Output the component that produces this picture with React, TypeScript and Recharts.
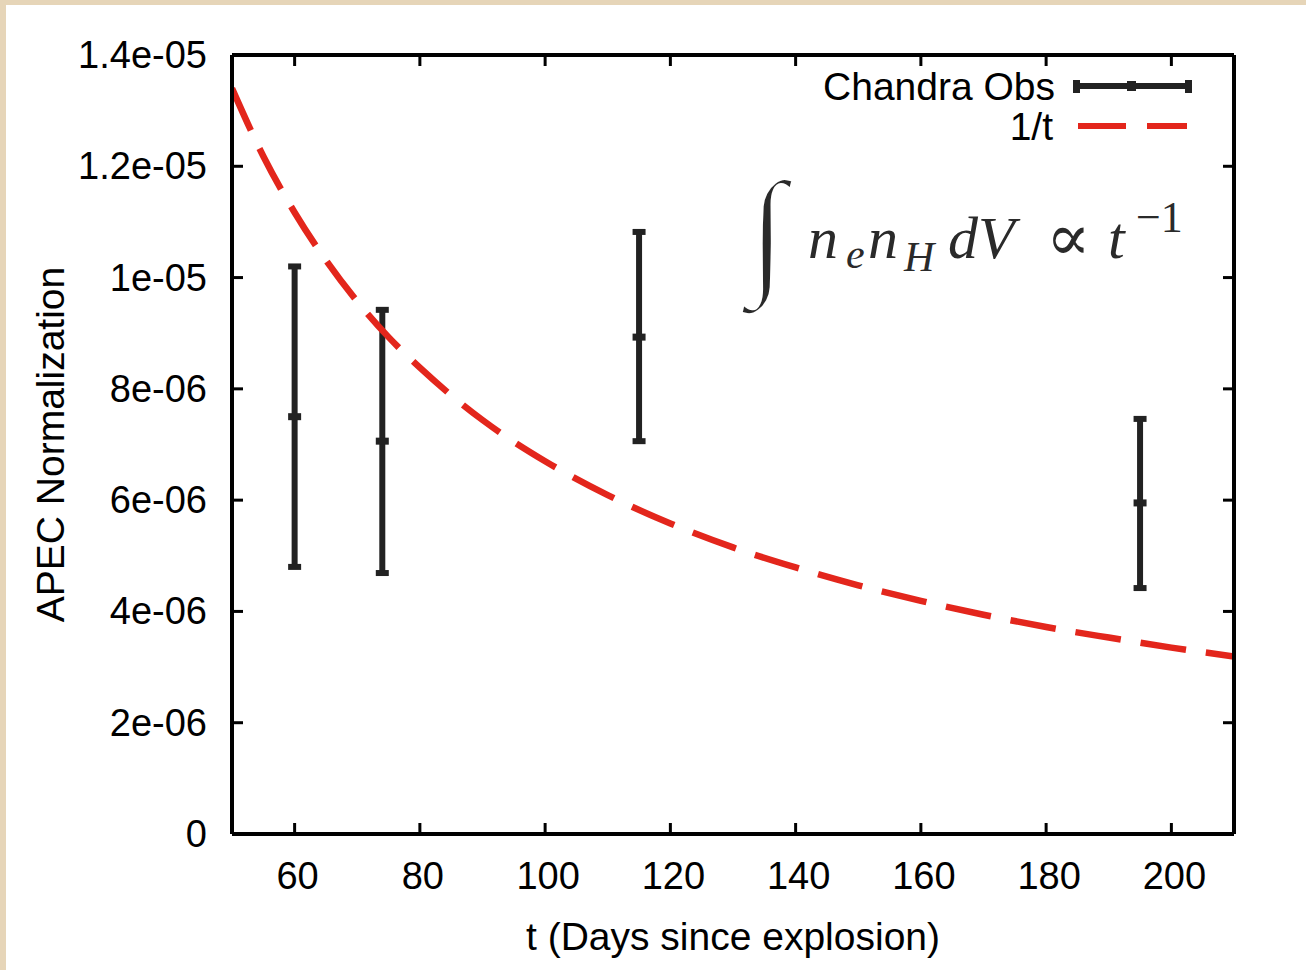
import React from 'react';
import { ComposedChart, XAxis, YAxis, Line, Scatter, ErrorBar, Legend } from 'recharts';

// ---- data ----
const OBS_T = [60, 74, 115, 195];
const OBS_NORM = [7.5e-6, 7.06e-6, 8.93e-6, 5.95e-6];
const OBS_LOW = [4.8e-6, 4.69e-6, 7.06e-6, 4.42e-6];
const OBS_HIGH = [1.02e-5, 9.42e-6, 1.082e-5, 7.46e-6];

const FIT_T = [50, 55, 60, 65, 70, 75, 80, 90, 100, 110, 120, 130, 140, 150, 160, 170, 180, 190, 200, 210];
const FIT_NORM = [
  1.34e-5, 1.218e-5, 1.117e-5, 1.031e-5, 9.57e-6, 8.93e-6, 8.38e-6, 7.44e-6, 6.7e-6, 6.09e-6,
  5.58e-6, 5.15e-6, 4.79e-6, 4.47e-6, 4.19e-6, 3.94e-6, 3.72e-6, 3.53e-6, 3.35e-6, 3.19e-6,
];

const X_TICKS = [60, 80, 100, 120, 140, 160, 180, 200];
const X_TICK_LABELS = ['60', '80', '100', '120', '140', '160', '180', '200'];
const Y_TICKS = [0, 2e-6, 4e-6, 6e-6, 8e-6, 1e-5, 1.2e-5, 1.4e-5];
const Y_TICK_LABELS = ['0', '2e-06', '4e-06', '6e-06', '8e-06', '1e-05', '1.2e-05', '1.4e-05'];

const SERIES_NAMES = ['Chandra Obs', '1/t'];
const X_TITLE = 't (Days since explosion)';
const Y_TITLE = 'APEC Normalization';

const obsData = OBS_T.map((t, i) => ({
  t,
  norm: OBS_NORM[i],
  err: [OBS_NORM[i] - OBS_LOW[i], OBS_HIGH[i] - OBS_NORM[i]],
}));
const fitData = FIT_T.map((t, i) => ({ t, norm: FIT_NORM[i] }));

// ---- style ----
const FONT = '"Liberation Sans", Arial, Helvetica, sans-serif';
const BLACK = '#000';
const BAR = '#222';
const RED = '#e3261c';
const BEIGE = '#e6d5b8';
const TICK_LEN = 11;

const BottomTick = (props: any) => {
  const { x, y, payload } = props;
  const i = X_TICKS.indexOf(payload.value);
  return (
    <g>
      <line x1={x} x2={x} y1={y} y2={y - TICK_LEN} stroke={BLACK} strokeWidth={3} />
      <text x={x + 3} y={y + 42} textAnchor="middle" dominantBaseline="central" fontFamily={FONT} fontSize={38} fill="#000">
        {X_TICK_LABELS[i]}
      </text>
    </g>
  );
};

const TopTick = (props: any) => {
  const { x, y } = props;
  return <line x1={x} x2={x} y1={y} y2={y + TICK_LEN} stroke={BLACK} strokeWidth={3} />;
};

const LeftTick = (props: any) => {
  const { x, y, payload } = props;
  const i = Y_TICKS.findIndex((v) => Math.abs(v - payload.value) < 1e-9);
  return (
    <g>
      <line x1={x} x2={x + TICK_LEN} y1={y} y2={y} stroke={BLACK} strokeWidth={3} />
      <text x={x - 25} y={y} textAnchor="end" dominantBaseline="central" fontFamily={FONT} fontSize={38} fill="#000">
        {Y_TICK_LABELS[i]}
      </text>
    </g>
  );
};

const RightTick = (props: any) => {
  const { x, y } = props;
  return <line x1={x} x2={x - TICK_LEN} y1={y} y2={y} stroke={BLACK} strokeWidth={3} />;
};

const CenterMark = (props: any) => {
  const { cx, cy } = props;
  if (cx == null || cy == null) return null;
  return <rect x={cx - 6.5} y={cy - 3.5} width={13} height={7} fill={BAR} />;
};

const XTitle = (props: any) => {
  const vb = props.viewBox || {};
  return (
    <text x={vb.x + vb.width / 2} y={vb.y + 102} textAnchor="middle" dominantBaseline="central" fontFamily={FONT} fontSize={39} fill="#000">
      {X_TITLE}
    </text>
  );
};

const YTitle = (props: any) => {
  const vb = props.viewBox || {};
  const cx = vb.x + 50;
  const cy = vb.y + vb.height / 2;
  return (
    <text x={cx} y={cy} transform={`rotate(-90 ${cx} ${cy})`} textAnchor="middle" dominantBaseline="central" fontFamily={FONT} fontSize={39} fill="#000">
      {Y_TITLE}
    </text>
  );
};

const renderLegend = () => (
  <svg width={460} height={100} style={{ display: 'block' }}>
    <text x={295} y={26} textAnchor="end" dominantBaseline="central" fontFamily={FONT} fontSize={39} fill="#000">
      {SERIES_NAMES[0]}
    </text>
    <line x1={316} x2={429} y1={26} y2={26} stroke={BAR} strokeWidth={6} />
    <rect x={313} y={20} width={7} height={13} fill={BAR} />
    <rect x={425} y={20} width={7} height={13} fill={BAR} />
    <rect x={367} y={21} width={9} height={10} fill={BAR} />
    <text x={293} y={66} textAnchor="end" dominantBaseline="central" fontFamily={FONT} fontSize={39} fill="#000">
      {SERIES_NAMES[1]}
    </text>
    <line x1={318} x2={427} y1={66} y2={66} stroke={RED} strokeWidth={6} strokeDasharray="48 21" />
  </svg>
);

const SERIF = '"Liberation Serif", "DejaVu Serif", serif';

export default function App() {
  return (
    <div style={{ position: 'fixed', left: 0, top: 0, width: 1306, height: 970, background: BEIGE, overflow: 'hidden' }}>
      <div style={{ position: 'absolute', left: 6, top: 5, width: 1300, height: 965, background: '#fff' }} />
      <div style={{ position: 'absolute', left: 0, top: 0 }}>
        <ComposedChart width={1306} height={970} margin={{ top: 54, right: 71, bottom: 0, left: 0 }}>
          <XAxis
            xAxisId="bottom"
            dataKey="t"
            type="number"
            domain={[50, 210]}
            ticks={X_TICKS}
            allowDataOverflow
            orientation="bottom"
            height={136}
            tickSize={0}
            tickMargin={0}
            tickLine={false}
            axisLine={{ stroke: BLACK, strokeWidth: 4 }}
            tick={BottomTick}
            interval={0}
            label={XTitle}
          />
          <XAxis
            xAxisId="top"
            dataKey="t"
            type="number"
            domain={[50, 210]}
            ticks={X_TICKS}
            allowDataOverflow
            orientation="top"
            height={1}
            tickSize={0}
            tickMargin={0}
            tickLine={false}
            axisLine={{ stroke: BLACK, strokeWidth: 4 }}
            tick={TopTick}
            interval={0}
          />
          <YAxis
            yAxisId="left"
            dataKey="norm"
            type="number"
            domain={[0, 1.4e-5]}
            ticks={Y_TICKS}
            allowDataOverflow
            orientation="left"
            width={232}
            tickSize={0}
            tickMargin={0}
            tickLine={false}
            axisLine={{ stroke: BLACK, strokeWidth: 4 }}
            tick={LeftTick}
            interval={0}
            label={YTitle}
          />
          <YAxis
            yAxisId="right"
            dataKey="norm"
            type="number"
            domain={[0, 1.4e-5]}
            ticks={Y_TICKS}
            allowDataOverflow
            orientation="right"
            width={1}
            tickSize={0}
            tickMargin={0}
            tickLine={false}
            axisLine={{ stroke: BLACK, strokeWidth: 4 }}
            tick={RightTick}
            interval={0}
          />
          <Legend
            content={renderLegend}
            layout="horizontal"
            verticalAlign="middle"
            align="center"
            wrapperStyle={{ position: 'absolute', left: 760, top: 60, width: 460, height: 100 }}
          />
          <Scatter
            name={SERIES_NAMES[0]}
            data={obsData}
            dataKey="norm"
            xAxisId="bottom"
            yAxisId="left"
            fill={BAR}
            shape={CenterMark}
            isAnimationActive={false}
          >
            <ErrorBar dataKey="err" direction="y" width={6.5} strokeWidth={6} stroke={BAR} isAnimationActive={false} />
          </Scatter>
          <Line
            name={SERIES_NAMES[1]}
            data={fitData}
            dataKey="norm"
            xAxisId="bottom"
            yAxisId="left"
            type="monotone"
            stroke={RED}
            strokeWidth={6.5}
            strokeDasharray="46 20"
            dot={false}
            activeDot={false}
            isAnimationActive={false}
          />
        </ComposedChart>
      </div>
      <svg
        width={1306}
        height={970}
        style={{ position: 'absolute', left: 0, top: 0, pointerEvents: 'none' }}
      >
        <g fill="#2a2a2a" fontFamily={SERIF}>
          <text x={748} y={278} fontSize={140} fontStyle="italic" stroke="#fff" strokeWidth={4}>∫</text>
          <text x={808} y={258} fontSize={60} fontStyle="italic">n</text>
          <text x={846} y={268} fontSize={42} fontStyle="italic">e</text>
          <text x={868} y={258} fontSize={60} fontStyle="italic">n</text>
          <text x={904} y={271} fontSize={42} fontStyle="italic">H</text>
          <text x={948} y={258} fontSize={60} fontStyle="italic">dV</text>
          <text x={1046} y={260} fontSize={66}>∝</text>
          <text x={1108} y={258} fontSize={60} fontStyle="italic">t</text>
          <text x={1136} y={232} fontSize={44}>−1</text>
        </g>
      </svg>
    </div>
  );
}
